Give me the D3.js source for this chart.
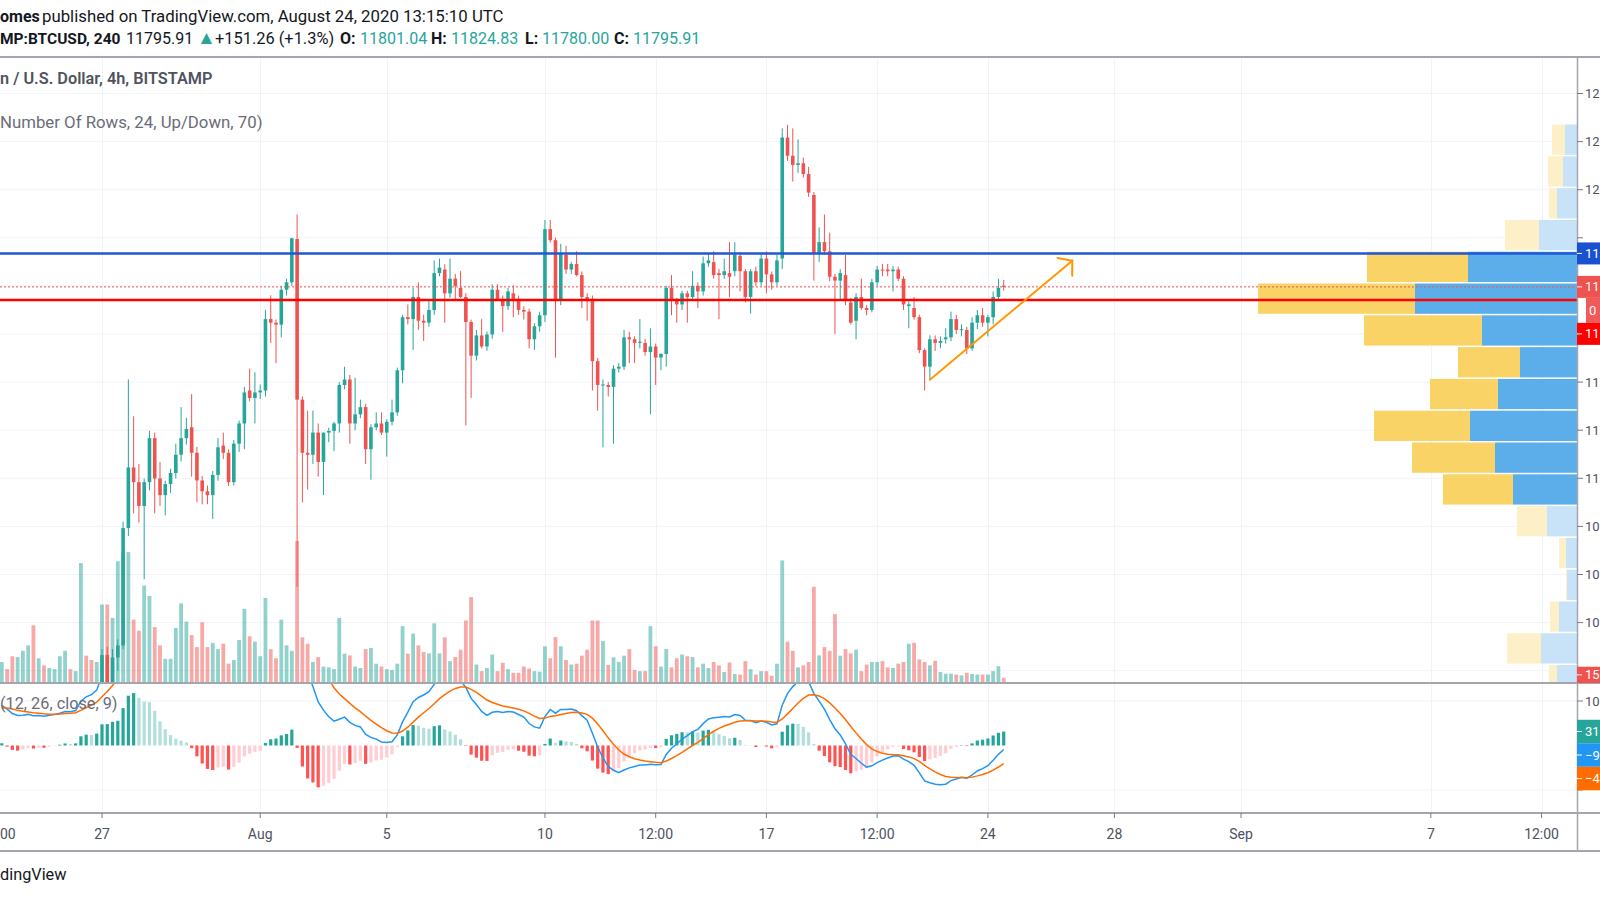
<!DOCTYPE html>
<html>
<head>
<meta charset="utf-8">
<script src="https://cdn.jsdelivr.net/npm/d3@7"></script>
<style>
  body { margin: 0; background: #fff; }
  svg { display: block; font-family: Roboto, "Liberation Sans", sans-serif; }
</style>
</head>
<body>
<svg id="chart" width="1600" height="900"></svg>
<script>
// first bar in view: Jul 23 20:00 UTC, 4h bars
const firstBar = Date.UTC(2020, 6, 23, 20);

// [open, high, low, close]
const candles = [
  // Jul 23 20:00 - Jul 26 20:00 (under the visible price range)
  [9440,9480,9420,9470],[9470,9490,9430,9450],[9450,9470,9400,9420],[9420,9480,9410,9470],
  [9470,9540,9460,9530],[9530,9580,9510,9560],[9560,9580,9490,9510],[9510,9570,9500,9560],
  [9560,9580,9530,9545],[9545,9600,9540,9590],[9590,9620,9570,9605],[9605,9650,9590,9635],
  [9635,9680,9620,9665],[9665,9675,9615,9630],[9630,9690,9620,9680],[9680,9950,9670,9930],
  [9930,9960,9830,9860],[9860,9900,9800,9840],[9840,9960,9830,9935],
  // Jul 27
  [9935,10290,9900,10265],[10265,10300,10080,10120],[10120,10290,10090,10255],[10255,10330,10200,10305],[10305,10820,10290,10793],[10793,11411,10760,11045],
  // Jul 28
  [11045,11258,10854,10984],[10984,11060,10816,10885],[10885,10999,10580,10984],[10984,11197,10950,11167],[11167,11190,10854,10999],[10999,11068,10885,10930],
  // Jul 29
  [10930,10990,10846,10976],[10976,11040,10940,11022],[11022,11144,11000,11098],[11098,11296,11070,11167],[11167,11251,11140,11205],[11212,11350,11007,11106],
  // Jul 30
  [11106,11130,10900,10991],[10991,11010,10892,10946],[10946,10970,10892,10930],[10930,11030,10831,11014],[11014,11167,10990,11129],[11136,11190,11080,11106],
  // Jul 31
  [11106,11120,10968,10984],[10984,11159,10970,11144],[11144,11240,11110,11228],[11228,11380,11121,11357],[11365,11456,11320,11334],[11334,11441,11228,11357],
  // Aug 1
  [11357,11390,11330,11365],[11365,11700,11340,11662],[11662,11761,11563,11647],[11647,11660,11479,11639],[11639,11800,11586,11784],[11784,11830,11760,11815],
  // Aug 2
  [11815,12000,11800,11998],[11995,12097,10549,11327],[11327,11340,10900,11106],[11106,11281,10953,11098],[11098,11281,11060,11190],[11190,11228,11007,11068],
  // Aug 3
  [11068,11190,10930,11190],[11190,11210,11150,11197],[11197,11235,11113,11228],[11228,11400,11190,11388],[11388,11464,11370,11411],[11411,11430,11144,11228],
  // Aug 4
  [11228,11418,11200,11266],[11266,11327,11250,11296],[11296,11310,11060,11121],[11121,11225,10994,11212],[11212,11274,11200,11228],[11228,11274,11180,11190],
  // Aug 5
  [11190,11245,11090,11235],[11235,11327,11220,11274],[11274,11460,11260,11449],[11449,11680,11395,11670],[11670,11723,11640,11662],[11662,11792,11533,11754],
  // Aug 6
  [11754,11815,11617,11655],[11655,11680,11571,11647],[11647,11739,11630,11700],[11700,11906,11680,11853],[11853,11914,11840,11876],[11868,11890,11647,11769],
  // Aug 7
  [11769,11914,11750,11830],[11830,11850,11739,11800],[11792,11861,11750,11754],[11754,11770,11220,11650],[11650,11660,11334,11510],[11510,11617,11490,11594],
  // Aug 8
  [11594,11662,11540,11548],[11548,11610,11530,11598],[11598,11807,11580,11784],[11784,11807,11740,11746],[11746,11760,11609,11716],[11716,11792,11700,11777],
  // Aug 9
  [11769,11803,11670,11746],[11746,11760,11680,11700],[11700,11715,11660,11693],[11693,11705,11540,11578],[11578,11645,11533,11632],[11632,11693,11610,11678],
  // Aug 10
  [11678,12074,11650,12036],[12036,12074,11980,11990],[11990,12000,11502,11739],[11739,11975,11720,11937],[11929,11967,11850,11868],[11868,11900,11850,11891],
  // Aug 11
  [11891,11944,11840,11845],[11845,11860,11708,11754],[11754,11770,11655,11746],[11746,11760,11365,11487],[11487,11500,11281,11388],[11388,11411,11129,11390],
  // Aug 12
  [11388,11400,11340,11380],[11380,11470,11144,11456],[11456,11479,11440,11464],[11464,11617,11450,11586],[11586,11609,11479,11578],[11578,11590,11479,11563],
  // Aug 13
  [11563,11662,11540,11568],[11563,11580,11510,11525],[11525,11624,11266,11548],[11548,11560,11388,11502],[11502,11520,11449,11517],[11517,11800,11464,11792],
  // Aug 14
  [11792,11845,11678,11739],[11739,11750,11647,11723],[11723,11780,11700,11769],[11769,11780,11647,11754],[11754,11861,11740,11800],[11800,11815,11708,11777],
  // Aug 15
  [11777,11922,11760,11894],[11894,11937,11880,11906],[11899,11944,11830,11845],[11853,11870,11662,11845],[11845,11914,11830,11861],[11853,11982,11754,11838],
  // Aug 16
  [11861,11982,11840,11929],[11925,11940,11777,11861],[11861,11870,11731,11754],[11754,11870,11685,11861],[11861,11880,11800,11815],[11815,11937,11800,11914],
  // Aug 17
  [11914,11944,11769,11848],[11848,11860,11784,11815],[11815,11929,11800,11906],[11914,12455,11870,12417],[12417,12470,12320,12341],[12341,12455,12234,12303],
  // Aug 18
  [12303,12409,12270,12310],[12310,12333,12250,12265],[12265,12295,12170,12188],[12178,12190,11822,11937],[11937,12043,11900,11982],[11982,12097,11930,11944],
  // Aug 19
  [11944,12021,11820,11838],[11838,11850,11601,11822],[11822,11870,11739,11853],[11845,11929,11720,11739],[11731,11750,11639,11647],[11655,11770,11578,11754],
  // Aug 20
  [11754,11830,11700,11708],[11708,11720,11678,11700],[11700,11830,11690,11815],[11815,11883,11800,11868],[11868,11891,11840,11864],[11868,11891,11840,11861],
  // Aug 21
  [11861,11883,11777,11868],[11868,11880,11820,11830],[11830,11840,11700,11723],[11716,11735,11624,11723],[11708,11754,11660,11670],[11670,11680,11520,11533],
  // Aug 22
  [11533,11540,11365,11464],[11464,11595,11411,11578],[11578,11594,11530,11563],[11563,11590,11540,11571],[11578,11624,11560,11586],[11586,11693,11570,11662],
  // Aug 23
  [11662,11680,11600,11617],[11617,11640,11590,11620],[11617,11630,11517,11540],[11540,11670,11530,11647],[11647,11700,11620,11678],[11678,11708,11630,11647],
  // Aug 24
  [11647,11680,11590,11670],[11670,11777,11640,11754],[11754,11830,11740,11792],[11801.04,11824.83,11780,11795.91]
];

const volumes = [
  70,45,90,87,109,128,198,83,58,49,45,90,109,45,38,416,92,77,70,
  271,271,224,422,454,454,218,179,337,301,
  192,128,81,81,189,275,211,164,122,209,
  122,137,115,134,64,77,147,256,160,141,
  90,294,115,83,218,128,109,493,156,134,
  70,87,54,51,45,224,99,93,54,49,
  115,119,64,54,45,42,64,195,99,169,
  128,105,100,205,100,156,73,87,113,215,
  297,61,38,49,96,38,67,45,32,32,
  54,47,38,36,125,83,157,125,77,61,
  64,92,113,215,215,143,60,86,70,92,
  115,42,38,38,195,125,54,115,51,83,
  96,90,87,51,64,49,70,58,35,68,
  28,26,73,45,26,38,38,22,64,425,
  141,109,51,58,70,333,93,122,109,237,
  92,115,100,113,38,61,70,70,73,51,
  49,64,70,134,137,79,70,58,74,35,
  29,29,26,23,32,28,26,26,26,38,55,15
];

// MACD and signal level at the left edge
const macdStart = [90, 85];

// volume profile, 24 rows, top row first
const profileHigh = 12473;
const profileStep = 132.2;
const profileUp   = [12,14,20,38,109,162,95,57,79,107,82,64,30,11,10,18,36,20,40,55,62,48,30,18];
const profileDown = [13,15, 8,34,101,157,118,62,68,96,83,70,30, 7, 1, 9,34, 8,30,42,50,36,22,14];
const valueAreaRows = [4, 11];

const levelPrices = [11935, 11741];
const lastPrice = 11795.91;
const trendLine = [["2020-08-22T04:00:00Z", 11410], ["2020-08-26T16:00:00Z", 11905]];

const priceTicks = [12600, 12400, 12200, 12000, 11800, 11600, 11400, 11200, 11000, 10800, 10600, 10400, 10200];
const macdTicks = [100, -100];
const timeTicks = [
  ["2020-07-23T12:00:00Z", "00"], ["2020-07-27T00:00:00Z", "27"], ["2020-08-01T00:00:00Z", "Aug"],
  ["2020-08-05T00:00:00Z", "5"], ["2020-08-10T00:00:00Z", "10"], ["2020-08-13T12:00:00Z", "12:00"],
  ["2020-08-17T00:00:00Z", "17"], ["2020-08-20T12:00:00Z", "12:00"], ["2020-08-24T00:00:00Z", "24"],
  ["2020-08-28T00:00:00Z", "28"], ["2020-09-01T00:00:00Z", "Sep"], ["2020-09-07T00:00:00Z", "7"],
  ["2020-09-10T12:00:00Z", "12:00"]
];

// layout
const paneTop = 57, paneBottom = 682, macdTop = 684, macdBottom = 813, axisBottom = 851, axisX = 1577;
const up = "#26a69a", down = "#ef5350";

const barMs = 4 * 3600 * 1000;
const bars = candles.map((c, k) => ({
  t: new Date(firstBar + k * barMs), o: c[0], h: c[1], l: c[2], c: c[3], v: volumes[k]
}));

// MACD (12, 26, close, 9)
let e12 = bars[0].c, e26 = bars[0].c - macdStart[0], sig = macdStart[1];
bars.forEach((d, k) => {
  if (k > 0) { e12 += (2 / 13) * (d.c - e12); e26 += (2 / 27) * (d.c - e26); }
  d.macd = e12 - e26;
  if (k > 0) sig += (2 / 10) * (d.macd - sig);
  d.signal = sig;
  d.hist = d.macd - sig;
});

const x = d3.scaleTime()
  .domain([new Date(Date.UTC(2020, 6, 27)), new Date(Date.UTC(2020, 8, 1))])
  .range([102, 1241]);
const y = d3.scaleLinear().domain([12000, 10000]).range([237.8, 718.8]);
const yVol = d3.scaleLinear().domain([0, 493]).range([paneBottom, 541]);
const yMacd = d3.scaleLinear().domain([100, -100]).range([701, 790]);

const svg = d3.select("#chart");
svg.append("rect").attr("width", 1600).attr("height", 900).attr("fill", "#fff");

const defs = svg.append("defs");
defs.append("clipPath").attr("id", "mainClip").append("rect")
  .attr("x", 0).attr("y", paneTop).attr("width", axisX).attr("height", paneBottom - paneTop);
defs.append("clipPath").attr("id", "macdClip").append("rect")
  .attr("x", 0).attr("y", macdTop).attr("width", axisX).attr("height", macdBottom - macdTop);

// grid
const grid = svg.append("g").attr("stroke", "#f0f3fa").attr("stroke-width", 1);
timeTicks.forEach(([t]) => {
  const xx = Math.round(x(new Date(t))) + 0.5;
  grid.append("line").attr("x1", xx).attr("x2", xx).attr("y1", paneTop).attr("y2", macdBottom);
});
priceTicks.forEach(p => {
  grid.append("line").attr("x1", 0).attr("x2", axisX).attr("y1", y(p)).attr("y2", y(p));
});
macdTicks.forEach(v => {
  grid.append("line").attr("x1", 0).attr("x2", axisX).attr("y1", yMacd(v)).attr("y2", yMacd(v));
});

// main pane
const main = svg.append("g").attr("clip-path", "url(#mainClip)");
const bw = 3.6;

main.append("g").selectAll("rect").data(bars).join("rect")
  .attr("x", d => x(d.t) - 1.9)
  .attr("width", 3.8)
  .attr("y", d => yVol(d.v))
  .attr("height", d => yVol(0) - yVol(d.v))
  .attr("fill", d => d.c >= d.o ? "rgba(38,166,154,0.5)" : "rgba(239,83,80,0.5)");

const cg = main.append("g");
cg.selectAll("line").data(bars).join("line")
  .attr("x1", d => x(d.t)).attr("x2", d => x(d.t))
  .attr("y1", d => y(d.h)).attr("y2", d => y(d.l))
  .attr("stroke", d => d.c >= d.o ? up : down).attr("stroke-width", 1);
cg.selectAll("rect").data(bars).join("rect")
  .attr("x", d => x(d.t) - bw / 2).attr("width", bw)
  .attr("y", d => y(Math.max(d.o, d.c)))
  .attr("height", d => Math.max(1, Math.abs(y(d.o) - y(d.c))))
  .attr("fill", d => d.c >= d.o ? up : down);

// volume profile
const profMax = d3.max(profileUp.map((u, k) => u + profileDown[k]));
const pw = d3.scaleLinear().domain([0, profMax]).range([0, 319]);
const prof = main.append("g");
profileUp.forEach((u, k) => {
  const top = y(profileHigh - k * profileStep) + 0.5;
  const h = y(profileHigh - (k + 1) * profileStep) - top - 1;
  const inVA = k >= valueAreaRows[0] && k <= valueAreaRows[1];
  const wu = pw(u), wd = pw(profileDown[k]);
  prof.append("rect").attr("x", axisX - wu - wd).attr("y", top).attr("width", wd).attr("height", h)
    .attr("fill", inVA ? "#fad366" : "#fdefc8");
  prof.append("rect").attr("x", axisX - wu).attr("y", top).attr("width", wu).attr("height", h)
    .attr("fill", inVA ? "#5caeea" : "#c8e3f7");
});

// horizontal levels
main.append("line").attr("x1", 0).attr("x2", axisX).attr("y1", y(levelPrices[0])).attr("y2", y(levelPrices[0]))
  .attr("stroke", "#2157d6").attr("stroke-width", 2.5);
main.append("line").attr("x1", 0).attr("x2", axisX).attr("y1", y(lastPrice)).attr("y2", y(lastPrice))
  .attr("stroke", down).attr("stroke-width", 1).attr("stroke-dasharray", "2,2");
main.append("line").attr("x1", 0).attr("x2", axisX).attr("y1", y(levelPrices[1])).attr("y2", y(levelPrices[1]))
  .attr("stroke", "#ff0000").attr("stroke-width", 2.5);

// trend arrow
const tx1 = x(new Date(trendLine[0][0])), ty1 = y(trendLine[0][1]);
const tx2 = x(new Date(trendLine[1][0])), ty2 = y(trendLine[1][1]);
const ang = Math.atan2(ty2 - ty1, tx2 - tx1);
const arrow = main.append("g").attr("stroke", "#ff9800").attr("stroke-width", 2).attr("fill", "none")
  .attr("stroke-linecap", "round");
arrow.append("line").attr("x1", tx1).attr("y1", ty1).attr("x2", tx2).attr("y2", ty2);
[50, -50].forEach(deg => {
  const a = ang + Math.PI + deg * Math.PI / 180;
  arrow.append("line").attr("x1", tx2).attr("y1", ty2)
    .attr("x2", tx2 + 15 * Math.cos(a)).attr("y2", ty2 + 15 * Math.sin(a));
});

// MACD pane
const mp = svg.append("g").attr("clip-path", "url(#macdClip)");
mp.append("g").selectAll("rect").data(bars).join("rect")
  .attr("x", d => x(d.t) - 1.6).attr("width", 3.2)
  .attr("y", d => yMacd(Math.max(0, d.hist)))
  .attr("height", d => Math.abs(yMacd(d.hist) - yMacd(0)))
  .attr("fill", (d, k) => {
    const prev = k > 0 ? bars[k - 1].hist : d.hist;
    if (d.hist >= 0) return d.hist >= prev ? "#26a69a" : "#b2dfdb";
    return d.hist < prev ? "#ff5252" : "#ffcdd2";
  });
mp.append("path").datum(bars)
  .attr("fill", "none").attr("stroke", "#2196f3").attr("stroke-width", 1.5)
  .attr("d", d3.line().x(d => x(d.t)).y(d => yMacd(d.macd)));
mp.append("path").datum(bars)
  .attr("fill", "none").attr("stroke", "#ff6d00").attr("stroke-width", 1.5)
  .attr("d", d3.line().x(d => x(d.t)).y(d => yMacd(d.signal)));

// frame lines
const frame = svg.append("g").attr("stroke", "#a3a6af");
frame.append("line").attr("x1", 0).attr("x2", 1600).attr("y1", paneTop).attr("y2", paneTop).attr("stroke-width", 2);
frame.append("line").attr("x1", 0).attr("x2", 1600).attr("y1", 683).attr("y2", 683).attr("stroke-width", 2);
frame.append("line").attr("x1", 0).attr("x2", 1600).attr("y1", macdBottom).attr("y2", macdBottom).attr("stroke-width", 2);
frame.append("line").attr("x1", 0).attr("x2", 1600).attr("y1", axisBottom).attr("y2", axisBottom).attr("stroke-width", 2);
frame.append("line").attr("x1", axisX + 0.5).attr("x2", axisX + 0.5).attr("y1", paneTop).attr("y2", axisBottom).attr("stroke-width", 1.5);

// time axis
const tAxis = svg.append("g").attr("font-size", 14).attr("fill", "#4c525e");
timeTicks.forEach(([t, lab]) => {
  const xx = x(new Date(t));
  tAxis.append("line").attr("x1", xx).attr("x2", xx).attr("y1", macdBottom).attr("y2", macdBottom + 5)
    .attr("stroke", "#787b86");
  tAxis.append("text").attr("x", xx < 10 ? 0 : xx).attr("y", 839)
    .attr("text-anchor", xx < 10 ? "start" : "middle").text(lab);
});

function fmt(v) { return d3.format(".2f")(v).replace("-", "\u2212").slice(0, 2); }

function stackLabels(list, h) {
  list.sort((a, b) => a.y - b.y);
  let bottom = -Infinity;
  list.forEach(l => {
    let top = l.y - h / 2;
    if (top < bottom) top = bottom;
    l.top = top;
    bottom = top + (l.h || h);
  });
  return list;
}

const last = bars[bars.length - 1];
const priceLabels = stackLabels([
  { y: y(levelPrices[0]), fill: "#1852d1", text: fmt(levelPrices[0]) },
  { y: y(lastPrice), fill: down, text: fmt(lastPrice), h: 47, countdown: true },
  { y: y(levelPrices[1]), fill: "#ff0000", text: fmt(levelPrices[1]) }
], 22);
const vy = yVol(last.v);
const volLabel = { top: vy - 11, h: Math.min(22, paneBottom + 1 - (vy - 11)), fill: down, text: String(last.v).slice(0, 2) };
const macdLabels = stackLabels([
  { y: yMacd(last.hist), fill: last.hist >= bars[bars.length - 2].hist ? "#26a69a" : "#b2dfdb", text: fmt(last.hist) },
  { y: yMacd(last.macd), fill: "#2196f3", text: fmt(last.macd) },
  { y: yMacd(last.signal), fill: "#ff6d00", text: fmt(last.signal) }
], 23.5);

// spans of the right axis covered by value labels
const covered = [];
priceLabels.forEach(l => covered.push([l.top, l.top + (l.h || 22)]));
covered.push([volLabel.top, volLabel.top + volLabel.h]);
macdLabels.forEach(l => covered.push([l.top, l.top + 23.5]));
const isCovered = yy => covered.some(([a, b]) => yy + 7 > a && yy - 7 < b);

// price axis (only the first digits fit before the picture's right edge)
const pAxis = svg.append("g").attr("font-size", 13).attr("fill", "#4c525e");
priceTicks.forEach(p => {
  pAxis.append("line").attr("x1", axisX).attr("x2", axisX + 6).attr("y1", y(p)).attr("y2", y(p)).attr("stroke", "#787b86");
  if (!isCovered(y(p))) {
    pAxis.append("text").attr("x", axisX + 8).attr("y", y(p)).attr("dy", "0.35em").text(String(p).slice(0, 2));
  }
});
macdTicks.forEach(v => {
  pAxis.append("line").attr("x1", axisX).attr("x2", axisX + 6).attr("y1", yMacd(v)).attr("y2", yMacd(v)).attr("stroke", "#787b86");
  if (!isCovered(yMacd(v))) {
    pAxis.append("text").attr("x", axisX + 8).attr("y", yMacd(v)).attr("dy", "0.35em")
      .text(String(v).replace("-", "\u2212").slice(0, 2));
  }
});

function drawLabel(l, h) {
  const g = svg.append("g");
  const x0 = l.x0 || axisX;
  const hh = l.h || h;
  g.append("rect").attr("x", x0).attr("y", l.top).attr("width", 1600 - x0).attr("height", hh).attr("fill", l.fill);
  if (!l.x0) {
    g.append("line").attr("x1", axisX).attr("x2", axisX + 5).attr("y1", l.top + hh / 2).attr("y2", l.top + hh / 2)
      .attr("stroke", "#fff");
  }
  g.append("text").attr("x", l.x0 ? x0 + 3 : axisX + 8).attr("y", l.top + hh / 2).attr("dy", "0.35em")
    .attr("fill", "#fff").attr("font-size", 13).text(l.text);
}

priceLabels.forEach(l => {
  if (l.countdown) {
    drawLabel({ top: l.top, h: 22, fill: l.fill, text: l.text }, 22);
    drawLabel({ top: l.top + 22, h: 25, fill: "#f05a5a", text: "0", x0: axisX + 9 }, 25);
  } else {
    drawLabel(l, 22);
  }
});
drawLabel(volLabel, 22);
macdLabels.forEach(l => drawLabel(l, 23.5));

// header and legends
const hdr = svg.append("g").attr("font-size", 16).attr("fill", "#131722");
const l1 = hdr.append("text").attr("y", 22);
l1.append("tspan").attr("x", 0).attr("font-weight", 700).text("omes");
l1.append("tspan").attr("x", 42).attr("font-size", 16.8).text("published on TradingView.com, August 24, 2020 13:15:10 UTC");

const l2 = hdr.append("text").attr("y", 44);
l2.append("tspan").attr("x", 0).attr("font-weight", 700).attr("font-size", 15.5).text("MP:BTCUSD, 240");
l2.append("tspan").attr("x", 126).text(d3.format(".2f")(lastPrice));
l2.append("tspan").attr("x", 197).attr("fill", up).attr("font-size", 19).text("\u25B2");
l2.append("tspan").attr("x", 215).attr("font-size", 16.4).text("+151.26 (+1.3%)");
[["O:", last.o, 340, 360], ["H:", last.h, 431, 451], ["L:", last.l, 525, 542], ["C:", last.c, 614, 633]].forEach(([k, v, xk, xv]) => {
  l2.append("tspan").attr("x", xk).attr("font-weight", 700).text(k);
  l2.append("tspan").attr("x", xv).attr("fill", up).text(d3.format(".2f")(v));
});

svg.append("text").attr("x", 0).attr("y", 84).attr("font-size", 16.3).attr("font-weight", 600)
  .attr("fill", "#50535e").text("n / U.S. Dollar, 4h, BITSTAMP");
svg.append("text").attr("x", 0).attr("y", 128).attr("font-size", 16.8)
  .attr("fill", "#6a6d78").text("Number Of Rows, 24, Up/Down, 70)");
svg.append("text").attr("x", 0).attr("y", 709).attr("font-size", 16.3)
  .attr("fill", "#6a6d78").text("(12, 26, close, 9)");
svg.append("text").attr("x", 0).attr("y", 880).attr("font-size", 16.3)
  .attr("fill", "#131722").text("dingView");
</script>
</body>
</html>
